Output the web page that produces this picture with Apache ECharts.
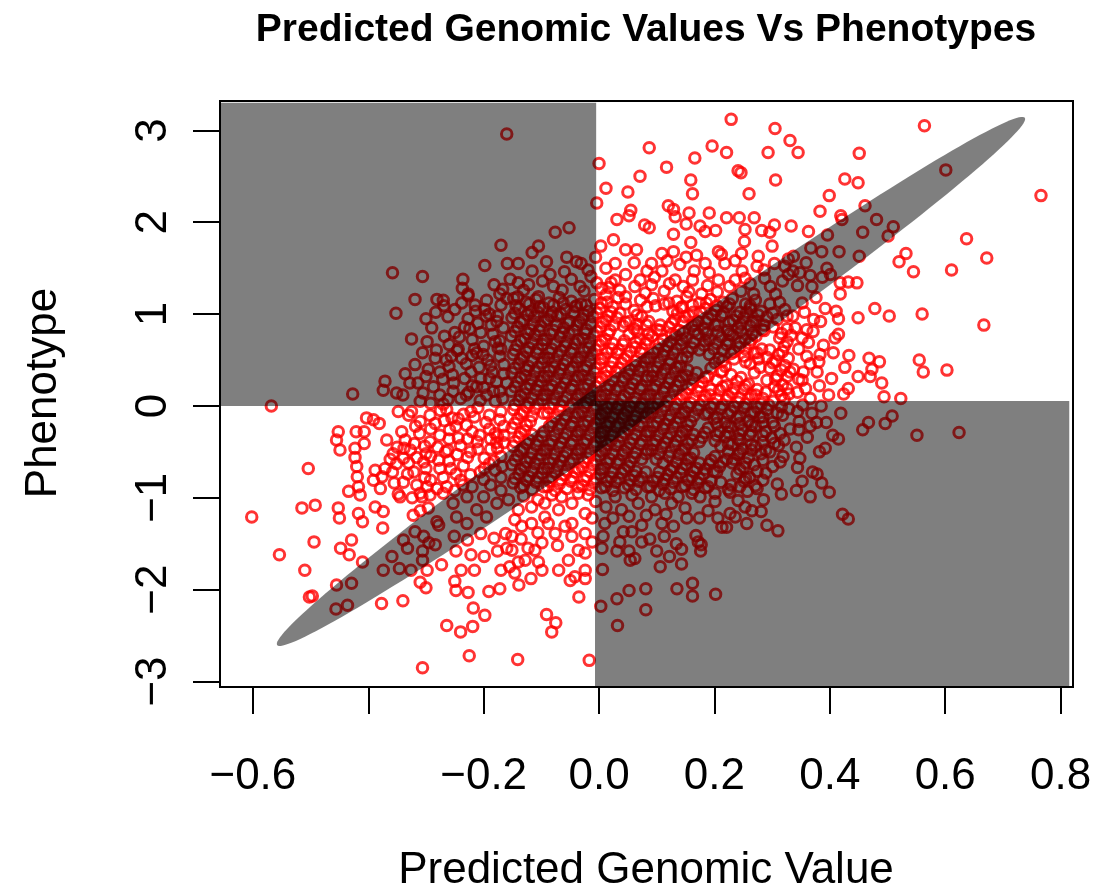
<!DOCTYPE html>
<html>
<head>
<meta charset="utf-8">
<script src="https://cdn.jsdelivr.net/npm/echarts@6/dist/echarts.min.js"></script>
<style>
  html, body { margin: 0; padding: 0; background: #ffffff; }
  #chart { width: 1117px; height: 893px; }
</style>
</head>
<body>
<div id="chart"></div>
<script>
// Axis ticks and the labelled subset (-0.4 carries a tick but no label)
const xTicks = [-0.6, -0.4, -0.2, 0, 0.2, 0.4, 0.6, 0.8];
const xTickLabels = [-0.6, -0.2, 0, 0.2, 0.4, 0.6, 0.8];
const yTicks = [-3, -2, -1, 0, 1, 2, 3];

// [predicted genomic value, phenotype] — outer part of the cloud
const outerPoints = [
  [-0.160,2.96],[-0.170,1.75],[-0.198,1.53],[-0.159,1.55],[-0.358,1.45],[-0.306,1.41],[-0.236,1.38],[-0.237,1.28],[-0.227,1.22],[-0.182,1.32],[-0.167,1.27],[-0.319,1.16],[-0.281,1.16],[-0.270,1.15],
  [0.229,3.12],[0.305,3.02],[0.331,2.89],[0.087,2.81],[0.196,2.83],[0.221,2.76],[0.293,2.76],[0.000,2.64],[0.166,2.70],[0.117,2.60],[0.071,2.50],[0.241,2.56],[0.246,2.54],[0.159,2.46],[0.306,2.46],[0.012,2.37],[0.050,2.33],[0.162,2.31],[0.260,2.31],[-0.004,2.21],[0.120,2.18],[0.129,2.14],[0.055,2.13],[0.052,2.07],[0.132,2.06],[0.156,2.10],[0.191,2.10],[0.221,2.05],[0.243,2.05],[0.269,2.05],[0.031,2.03],[0.079,1.97],[0.087,1.94],[0.151,1.98],[0.175,1.96],[0.184,1.90],[0.202,1.91],[0.129,1.87],[0.253,1.92],[0.282,1.91],[0.304,1.97],[0.333,1.96],[0.296,1.89],[-0.076,1.89],[-0.052,1.94],[0.025,1.81],[0.003,1.74],[0.159,1.78],[0.252,1.79],[0.300,1.74],[-0.105,1.74],[-0.116,1.67],[-0.091,1.57],[-0.140,1.55],[-0.039,1.57],[-0.031,1.55],[-0.085,1.43],[-0.060,1.46],[-0.019,1.48],[-0.014,1.41],[-0.154,1.38],[-0.140,1.34],[-0.131,1.26],[-0.105,1.19],[-0.079,1.30],[-0.064,1.26],[-0.033,1.30],[-0.004,1.34],[0.021,1.34],[0.046,1.70],[0.028,1.55],[0.065,1.70],[0.109,1.66],[0.129,1.68],[0.091,1.55],[0.140,1.54],[0.169,1.64],[0.207,1.68],[0.212,1.65],[0.184,1.55],[0.218,1.55],[0.247,1.66],[0.248,1.47],[0.276,1.63],[0.274,1.52],[0.304,1.55],[0.322,1.52],[0.083,1.47],[0.109,1.47],[0.165,1.47],[0.191,1.45],[0.046,1.43],[0.071,1.37],[0.028,1.37],[0.091,1.32],[0.132,1.37],[0.162,1.37],[0.207,1.37],[0.236,1.37],[0.253,1.39],[0.287,1.39],[0.328,1.43],[0.080,1.23],[0.113,1.25],[0.156,1.24],[0.178,1.22],[0.205,1.24],[0.246,1.25],[0.268,1.22],[0.297,1.30],[0.046,1.19],[0.012,1.21],[0.017,1.29],[0.328,1.60],[0.336,1.47],
  [0.564,3.05],[0.345,2.76],[0.451,2.75],[0.601,2.57],[0.766,2.29],[0.426,2.47],[0.449,2.43],[0.399,2.29],[0.383,2.12],[0.461,2.18],[0.419,2.07],[0.421,2.03],[0.481,2.03],[0.510,1.95],[0.501,1.85],[0.363,1.90],[0.396,1.86],[0.457,1.89],[0.637,1.82],[0.672,1.61],[0.416,1.68],[0.451,1.63],[0.532,1.66],[0.520,1.57],[0.545,1.46],[0.611,1.48],[0.367,1.72],[0.386,1.68],[0.337,1.63],[0.359,1.56],[0.395,1.50],[0.348,1.45],[0.366,1.42],[0.387,1.40],[0.401,1.43],[0.369,1.30],[0.418,1.34],[0.432,1.35],[0.447,1.34],[0.418,1.22],[0.344,1.31],
  [0.392,1.06],[0.411,1.03],[0.415,0.95],[0.384,0.92],[0.449,0.96],[0.478,1.06],[0.503,0.98],[0.560,1.00],[0.667,0.88],[0.336,0.98],[0.340,0.85],[0.360,0.83],[0.371,0.81],[0.415,0.78],[0.409,0.74],[0.363,0.69],[0.383,0.56],[0.360,0.54],[0.381,0.48],[0.378,0.37],[0.354,0.37],[0.337,0.40],[0.403,0.30],[0.468,0.52],[0.486,0.48],[0.473,0.40],[0.470,0.32],[0.449,0.32],[0.490,0.25],[0.555,0.50],[0.562,0.37],[0.603,0.39],[0.432,0.19],[0.424,0.13],[0.494,0.10],[0.523,0.08],[0.346,0.29],[0.358,0.19],[0.344,0.15],[0.353,0.01],[0.385,0.00],[0.344,-0.06],[0.369,-0.08],[0.419,-0.08],[0.377,-0.18],[0.394,-0.18],[0.347,-0.17],[0.508,-0.11],[0.496,-0.19],[0.467,-0.18],[0.457,-0.26],[0.551,-0.32],[0.624,-0.29],[0.361,-0.34],[0.405,-0.32],[0.415,-0.36],[0.392,-0.46],[0.342,-0.45],[0.348,-0.57],[0.344,-0.67],[0.370,-0.72],[0.378,-0.74],[0.399,-0.94],[0.366,-0.99],[0.422,-1.18],[0.432,-1.23],
  [-0.269,1.09],[-0.227,1.20],[-0.352,1.01],[-0.198,1.05],[-0.196,0.98],[-0.227,0.95],[-0.224,0.84],[-0.242,0.75],[-0.325,0.73],[-0.177,0.92],[-0.166,0.85],[-0.160,1.17],[-0.184,0.78],[-0.282,0.61],[-0.284,0.52],[-0.265,0.50],[-0.238,0.52],[-0.212,0.58],[-0.201,0.56],[-0.193,0.50],[-0.172,0.54],[-0.319,0.45],[-0.276,0.37],[-0.254,0.34],[-0.233,0.30],[-0.208,0.42],[-0.185,0.37],[-0.165,0.45],[-0.371,0.27],[-0.374,0.17],[-0.328,0.25],[-0.314,0.25],[-0.351,0.14],[-0.340,0.12],[-0.305,0.14],[-0.287,0.21],[-0.276,0.12],[-0.253,0.16],[-0.230,0.12],[-0.212,0.21],[-0.195,0.12],[-0.172,0.16],[-0.160,0.25],[-0.427,0.13],[-0.568,0.00],[-0.348,-0.06],[-0.325,-0.06],[-0.293,-0.10],[-0.264,-0.04],[-0.244,-0.14],[-0.222,-0.06],[-0.403,-0.13],[-0.391,-0.15],[-0.381,-0.19],[-0.452,-0.28],[-0.455,-0.37],[-0.449,-0.48],[-0.421,-0.28],[-0.407,-0.28],[-0.407,-0.41],[-0.423,-0.46],[-0.368,-0.37],[-0.342,-0.28],[-0.336,-0.37],[-0.311,-0.30],[-0.293,-0.39],[-0.284,-0.19],[-0.259,-0.26],[-0.244,-0.35],[-0.230,-0.21],[-0.207,-0.32],[-0.504,-0.68],[-0.423,-0.56],[-0.420,-0.66],[-0.419,-0.77],[-0.417,-0.88],[-0.434,-0.93],[-0.388,-0.70],[-0.391,-0.81],[-0.379,-0.90],[-0.371,-0.68],[-0.376,-0.77],[-0.357,-0.52],[-0.351,-0.63],[-0.339,-0.57],[-0.327,-0.48],[-0.321,-0.72],[-0.304,-0.61],[-0.292,-0.55],[-0.266,-0.50],[-0.339,-0.83],[-0.316,-0.86],[-0.292,-0.81],[-0.281,-0.90],[-0.257,-0.68],[-0.240,-0.81],[-0.223,-0.75],[-0.348,-0.96],[-0.310,-0.95],[-0.246,-0.53],[-0.223,-0.50],[-0.199,-0.57],[-0.176,-0.46],[-0.211,-0.39],[-0.188,-0.36],[-0.165,-0.32],[-0.182,-0.60],[-0.199,-0.68],
  [-0.170,-0.06],[-0.190,-0.10],[-0.210,-0.02],[-0.235,-0.09],[-0.255,-0.13],[-0.275,-0.05],[-0.310,-0.17],[-0.330,-0.10],[-0.165,-0.22],[-0.190,-0.25],[-0.220,-0.28],[-0.260,-0.36],[-0.320,-0.41],[-0.350,-0.45],[-0.170,-0.55],[-0.180,-0.70],[-0.200,-0.80],[-0.220,-0.88],[-0.170,-0.92],[-0.250,-0.92],[-0.270,-0.78],[-0.300,-0.68],[-0.330,-0.62],[-0.355,-0.84],[-0.260,-0.60],[-0.235,-0.65],[-0.210,-0.47],[-0.240,-0.43],[-0.280,-0.45],[-0.300,-0.52],[-0.170,-0.78],[-0.190,-0.63],[-0.165,-0.40],[-0.180,-0.30],
  [-0.170,1.10],[-0.190,1.00],[-0.210,0.90],[-0.180,0.70],[-0.200,0.65],[-0.220,0.72],[-0.250,0.80],[-0.260,0.67],[-0.170,0.62],[-0.190,0.30],[-0.220,0.22],[-0.240,0.08],[-0.180,0.05],[-0.200,0.20],[-0.165,0.35],[-0.230,0.46],[-0.260,0.43],[-0.300,0.32],[-0.310,0.05],[-0.270,0.02],[-0.215,1.10],[-0.250,1.05],[-0.300,0.95],[-0.290,0.85],
  [-0.602,-1.21],[-0.515,-1.11],[-0.492,-1.08],[-0.452,-1.11],[-0.450,-1.22],[-0.494,-1.48],[-0.554,-1.62],[-0.510,-1.79],[-0.502,-2.08],[-0.497,-2.07],[-0.455,-1.95],[-0.429,-1.93],[-0.456,-2.21],[-0.436,-2.17],[-0.448,-1.55],[-0.429,-1.46],[-0.433,-1.62],[-0.410,-1.70],[-0.417,-1.17],[-0.410,-1.26],[-0.388,-1.10],[-0.374,-1.15],[-0.375,-1.33],[-0.414,-0.97],[-0.345,-0.99],[-0.324,-1.00],[-0.307,-0.99],[-0.293,-0.97],[-0.270,-0.95],[-0.322,-1.19],[-0.310,-1.14],[-0.296,-1.11],[-0.281,-1.26],[-0.278,-1.30],[-0.319,-1.37],[-0.339,-1.46],[-0.332,-1.55],[-0.304,-1.42],[-0.295,-1.49],[-0.284,-1.51],[-0.306,-1.58],[-0.359,-1.64],[-0.374,-1.79],[-0.346,-1.77],[-0.326,-1.79],[-0.306,-1.68],[-0.298,-1.79],[-0.273,-1.73],[-0.310,-1.92],[-0.300,-1.98],[-0.377,-2.15],[-0.340,-2.12],[-0.264,-2.39],[-0.240,-2.46],[-0.219,-2.40],[-0.225,-2.72],[-0.306,-2.85],[-0.250,-1.91],[-0.248,-2.01],[-0.227,-2.03],[-0.218,-2.20],[-0.198,-2.28],[-0.191,-2.02],[-0.172,-1.99],[-0.239,-1.79],[-0.216,-1.79],[-0.170,-1.79],[-0.248,-1.58],[-0.222,-1.62],[-0.199,-1.64],[-0.176,-1.58],[-0.160,-1.55],[-0.251,-1.42],[-0.228,-1.46],[-0.205,-1.39],[-0.182,-1.44],[-0.162,-1.39],[-0.247,-1.21],[-0.229,-1.28],[-0.212,-1.13],[-0.195,-1.21],[-0.177,-1.06],[-0.253,-1.06],[-0.229,-0.99],[-0.200,-0.99],
  [-0.141,-2.76],[-0.017,-2.77],[-0.091,-2.27],[-0.075,-2.36],[-0.082,-2.46],[-0.035,-2.08],[-0.139,-1.95],[-0.118,-1.88],[-0.050,-1.90],[-0.042,-1.86],[-0.024,-1.88],[0.003,-2.18],[0.031,-2.10],[0.052,-2.01],[0.081,-1.99],[0.081,-2.22],[0.032,-2.39],[0.135,-1.99],[0.162,-1.93],[0.162,-2.07],[0.202,-2.05],[0.006,-1.78],[0.031,-1.58],[0.054,-1.68],[0.062,-1.66],[0.106,-1.75],[0.143,-1.72],[0.100,-1.58],[0.074,-1.48],[0.088,-1.45],[0.143,-1.56],[0.134,-1.50],[0.113,-1.42],[0.168,-1.41],[0.172,-1.48],[0.177,-1.51],[0.176,-1.58],[0.213,-1.32],[0.221,-1.32],[0.227,-1.17],[0.236,-1.21],[0.253,-1.10],[0.265,-1.14],[0.281,-1.15],[0.256,-1.28],[0.291,-1.30],[0.310,-1.36],[0.189,-1.14],[0.201,-1.04],[0.175,-0.99],[0.201,-0.95],[0.227,-0.94],[0.257,-0.93],[0.152,-1.22],[0.129,-1.31],[0.109,-1.28],[0.074,-1.30],[0.057,-1.37],[0.042,-1.37],[0.010,-1.28],[0.007,-1.42],[0.005,-1.55],[0.039,-1.13],[0.068,-1.06],[0.097,-1.13],[0.126,-1.06],[0.149,-1.11],[0.028,-0.99],[0.057,-0.97],[0.091,-0.99],[0.114,-0.95],[0.137,-0.99],[0.161,-0.95],[-0.134,-1.31],[-0.117,-1.28],[-0.151,-1.42],[-0.123,-1.55],[-0.111,-1.57],[-0.151,-1.57],[-0.140,-1.70],[-0.105,-1.70],[-0.099,-1.79],[-0.024,-1.79],[-0.053,-1.68],[-0.036,-1.57],[-0.024,-1.60],[-0.047,-1.42],[-0.024,-1.39],[-0.059,-1.31],[-0.088,-1.28],[-0.076,-1.39],[-0.099,-1.49],[-0.070,-1.79],[-0.128,-1.68],[-0.146,-1.82],[-0.155,-1.75],[-0.157,-1.02],[-0.140,-1.13],[-0.117,-1.10],[-0.094,-1.06],[-0.070,-1.13],[-0.047,-1.06],[-0.024,-1.17],[-0.094,-1.21],[-0.047,-1.28],[-0.146,-1.24],[-0.065,-0.99],[-0.036,-0.95],[-0.019,-0.97]
];

// Ring of moderately dense points round the centre
const ringPoints = [
  [-0.172,1.22],[-0.195,1.15],[-0.214,1.03],[-0.238,1.12],[-0.262,0.97],[-0.283,1.02],[-0.176,0.98],[-0.205,0.80],[-0.233,0.86],[-0.268,0.76],[-0.298,0.70],[-0.187,0.88],[-0.172,0.71],[-0.216,0.62],[-0.246,0.60],[-0.306,0.58],[-0.188,0.44],[-0.222,0.37],[-0.252,0.25],[-0.271,0.29],[-0.296,0.40],[-0.336,0.35],[-0.205,0.30],[-0.178,0.26],[-0.167,0.08],[-0.206,0.06],[-0.226,0.15],[-0.262,0.07],[-0.292,0.03],[-0.183,0.16],[-0.244,0.62],[-0.256,0.54],[-0.175,0.63],[-0.220,0.55],
  [-0.172,-0.15],[-0.196,-0.18],[-0.216,-0.12],[-0.248,-0.22],[-0.268,-0.16],[-0.292,-0.25],[-0.318,-0.22],[-0.176,-0.33],[-0.228,-0.36],[-0.276,-0.32],[-0.302,-0.44],[-0.338,-0.46],[-0.188,-0.47],[-0.262,-0.48],[-0.228,-0.56],[-0.278,-0.59],[-0.316,-0.56],[-0.168,-0.66],[-0.206,-0.72],[-0.248,-0.74],[-0.276,-0.68],[-0.302,-0.78],[-0.332,-0.74],[-0.188,-0.86],[-0.236,-0.86],[-0.264,-0.88],[-0.298,-0.88],[-0.178,-0.40],[-0.362,-0.58],[-0.358,-0.72],
  [-0.122,1.32],[-0.098,1.36],[-0.048,1.38],[-0.026,1.25],[0.004,1.28],[0.036,1.26],[0.062,1.30],[0.096,1.40],[0.122,1.33],[0.146,1.30],[0.188,1.31],[0.226,1.30],[0.262,1.33],[0.306,1.22],[0.318,1.36],[0.061,1.56],[0.118,1.58],[0.151,1.62],[0.236,1.58],[0.286,1.48],[-0.056,1.62],[-0.006,1.62],[0.012,1.50],[-0.116,1.47],[-0.141,1.19],
  [-0.131,-0.98],[-0.106,-1.02],[-0.082,-0.97],[-0.006,-1.04],[0.012,-1.10],[-0.012,-1.22],[0.024,-1.22],[0.052,-1.20],[0.082,-1.19],[0.116,-1.18],[0.174,-1.22],[0.206,-1.22],[-0.106,-1.38],[-0.072,-1.52],[-0.012,-1.48],[0.036,-1.48],[0.052,-1.58],[0.122,-1.64],[-0.135,-1.45],[0.241,-1.03],[0.285,-1.02],[0.316,-0.96],
  [0.352,1.12],[0.376,1.18],[0.356,1.02],[0.372,0.94],[0.352,0.74],[0.389,0.66],[0.406,0.58],[0.346,0.62],[0.366,0.46],[0.352,0.28],[0.382,0.22],[0.398,0.12],[0.366,0.08],[0.346,-0.26],[0.366,-0.22],[0.382,-0.50],[0.352,-0.82],[0.386,-0.84],[0.342,-0.92],[0.433,0.55],[0.426,0.42]
];

// Dense centre of the cloud
const corePoints = [
  [-0.148,1.17],[-0.126,1.13],[-0.109,1.16],[-0.087,1.12],[-0.069,1.18],[-0.048,1.14],[-0.031,1.11],[-0.008,1.16],[0.014,1.13],[0.033,1.18],[0.072,1.15],[0.094,1.17],[0.113,1.11],[0.135,1.14],[0.152,1.19],[0.174,1.12],[0.193,1.16],[0.215,1.13],[0.231,1.17],[0.254,1.11],[0.271,1.15],[0.313,1.13],
  [-0.144,1.09],[-0.121,1.11],[-0.103,1.08],[-0.079,1.10],[-0.062,1.12],[-0.039,1.09],[-0.022,1.10],[0.004,1.12],[0.024,1.08],[0.046,1.11],[0.098,1.09],[0.121,1.12],[0.144,1.08],[0.162,1.10],[0.186,1.12],[0.204,1.09],[0.226,1.11],[0.262,1.09],[0.296,1.11],
  [-0.139,1.06],[-0.118,1.03],[-0.097,1.07],[-0.081,1.02],[-0.058,1.05],[-0.041,1.08],[-0.019,1.03],[0.002,1.06],[0.021,1.02],[0.061,1.04],[0.083,1.08],[0.128,1.03],[0.142,1.07],[0.163,1.02],[0.184,1.06],[0.203,1.04],[0.222,1.08],[0.244,1.02],[0.262,1.06],[0.281,1.03],[0.322,1.05],
  [-0.146,1.01],[-0.124,0.99],[-0.106,1.02],[-0.084,0.98],[-0.066,1.00],[-0.044,1.02],[-0.026,0.99],[-0.004,1.01],[0.016,0.98],[0.036,1.01],[0.066,0.99],[0.136,1.01],[0.156,0.98],[0.176,1.02],[0.196,0.99],[0.216,1.01],[0.238,0.98],[0.256,1.02],[0.276,0.99],[0.301,1.01],[0.326,0.98],
  [-0.151,0.96],[-0.131,0.93],[-0.112,0.97],[-0.089,0.94],[-0.072,0.98],[-0.051,0.92],[-0.029,0.95],[-0.011,0.97],[0.012,0.93],[0.031,0.96],[0.053,0.92],[0.074,0.97],[0.131,0.94],[0.149,0.97],[0.171,0.92],[0.189,0.95],[0.212,0.98],[0.233,0.93],[0.251,0.96],[0.272,0.92],[0.291,0.97],[0.309,0.94],
  [-0.136,0.91],[-0.114,0.89],[-0.094,0.92],[-0.074,0.88],[-0.054,0.90],[-0.034,0.92],[-0.014,0.89],[0.006,0.91],[0.026,0.88],[0.046,0.91],[0.066,0.89],[0.086,0.92],[0.106,0.88],[0.126,0.90],[0.146,0.92],[0.166,0.89],[0.186,0.91],[0.206,0.88],[0.226,0.91],[0.246,0.89],[0.266,0.92],[0.286,0.88],
  [-0.141,0.86],[-0.119,0.83],[-0.101,0.87],[-0.079,0.82],[-0.061,0.85],[-0.038,0.88],[-0.022,0.83],[0.003,0.86],[0.019,0.82],[0.042,0.87],[0.061,0.84],[0.082,0.88],[0.101,0.83],[0.121,0.86],[0.139,0.82],[0.162,0.87],[0.181,0.84],[0.201,0.88],[0.223,0.82],[0.241,0.85],[0.262,0.87],[0.283,0.83],[0.302,0.86],[0.326,0.84],
  [-0.146,0.81],[-0.124,0.79],[-0.104,0.82],[-0.084,0.78],[-0.064,0.80],[-0.044,0.82],[-0.024,0.79],[-0.004,0.81],[0.016,0.78],[0.066,0.81],[0.086,0.79],[0.106,0.82],[0.126,0.78],[0.146,0.80],[0.166,0.82],[0.186,0.79],[0.206,0.81],[0.226,0.78],[0.246,0.81],[0.266,0.79],[0.286,0.82],[0.316,0.79],
  [-0.152,0.76],[-0.129,0.73],[-0.111,0.77],[-0.091,0.72],[-0.068,0.75],[-0.052,0.78],[-0.028,0.73],[-0.009,0.76],[0.011,0.72],[0.052,0.78],[0.071,0.73],[0.092,0.76],[0.111,0.72],[0.133,0.77],[0.151,0.74],[0.172,0.78],[0.191,0.72],[0.212,0.75],[0.232,0.77],[0.253,0.73],[0.272,0.76],[0.313,0.74],[0.333,0.77],
  [-0.136,0.71],[-0.116,0.69],[-0.096,0.72],[-0.076,0.68],[-0.056,0.70],[-0.036,0.72],[-0.016,0.69],[0.004,0.71],[0.024,0.68],[0.044,0.71],[0.064,0.69],[0.084,0.72],[0.104,0.68],[0.124,0.70],[0.144,0.72],[0.164,0.69],[0.184,0.71],[0.204,0.68],[0.224,0.71],[0.244,0.69],[0.264,0.72],[0.326,0.70],
  [-0.142,0.66],[-0.121,0.63],[-0.098,0.67],[-0.082,0.62],[-0.059,0.65],[-0.041,0.68],[-0.018,0.63],[0.001,0.66],[0.022,0.62],[0.041,0.67],[0.063,0.64],[0.081,0.68],[0.102,0.62],[0.119,0.65],[0.142,0.67],[0.161,0.63],[0.182,0.66],[0.199,0.62],[0.221,0.67],[0.243,0.64],[0.261,0.68],[0.282,0.62],[0.321,0.65],
  [-0.146,0.61],[-0.126,0.59],[-0.106,0.62],[-0.086,0.58],[-0.066,0.60],[-0.046,0.62],[-0.026,0.59],[-0.006,0.61],[0.014,0.58],[0.034,0.61],[0.054,0.59],[0.074,0.62],[0.094,0.58],[0.114,0.60],[0.134,0.62],[0.154,0.59],[0.174,0.61],[0.214,0.61],[0.234,0.59],[0.254,0.62],[0.274,0.58],[0.296,0.61],[0.318,0.59],
  [-0.149,0.56],[-0.131,0.53],[-0.108,0.57],[-0.088,0.52],[-0.071,0.55],[-0.049,0.58],[-0.031,0.53],[-0.012,0.56],[0.009,0.52],[0.031,0.57],[0.049,0.54],[0.072,0.58],[0.089,0.52],[0.111,0.55],[0.129,0.57],[0.152,0.53],[0.191,0.56],[0.208,0.52],[0.229,0.57],[0.252,0.54],[0.269,0.58],[0.291,0.53],[0.311,0.56],
  [-0.136,0.51],[-0.116,0.49],[-0.096,0.52],[-0.076,0.48],[-0.056,0.50],[-0.036,0.52],[-0.016,0.49],[0.004,0.51],[0.024,0.48],[0.044,0.51],[0.064,0.49],[0.084,0.52],[0.104,0.48],[0.124,0.50],[0.144,0.52],[0.214,0.49],[0.234,0.51],[0.254,0.48],[0.276,0.51],[0.306,0.49],[0.328,0.52],
  [-0.139,0.46],[-0.122,0.43],[-0.099,0.47],[-0.078,0.42],[-0.061,0.45],[-0.039,0.48],[-0.021,0.43],[0.002,0.46],[0.021,0.42],[0.039,0.47],[0.062,0.44],[0.079,0.48],[0.101,0.42],[0.122,0.46],[0.141,0.43],[0.201,0.47],[0.219,0.43],[0.262,0.46],[0.279,0.42],[0.301,0.47],[0.322,0.44],
  [-0.146,0.41],[-0.126,0.39],[-0.106,0.42],[-0.086,0.38],[-0.066,0.40],[-0.046,0.42],[-0.026,0.39],[-0.006,0.41],[0.014,0.38],[0.034,0.41],[0.054,0.39],[0.074,0.42],[0.094,0.38],[0.114,0.40],[0.134,0.42],[0.154,0.39],[0.194,0.41],[0.214,0.38],[0.296,0.41],[0.316,0.39],
  [-0.151,0.36],[-0.128,0.33],[-0.111,0.37],[-0.089,0.32],[-0.069,0.35],[-0.051,0.38],[-0.029,0.33],[-0.008,0.36],[0.012,0.32],[0.029,0.37],[0.051,0.34],[0.069,0.38],[0.092,0.32],[0.109,0.35],[0.131,0.37],[0.151,0.33],[0.169,0.36],[0.189,0.32],[0.211,0.37],[0.229,0.34],[0.269,0.36],[0.309,0.33],[0.331,0.37],
  [-0.136,0.31],[-0.116,0.29],[-0.096,0.32],[-0.076,0.28],[-0.056,0.30],[-0.036,0.32],[-0.016,0.29],[0.004,0.31],[0.024,0.28],[0.044,0.31],[0.064,0.29],[0.084,0.32],[0.104,0.28],[0.124,0.30],[0.144,0.32],[0.164,0.29],[0.184,0.31],[0.204,0.28],[0.246,0.31],[0.306,0.29],[0.326,0.32],
  [-0.141,0.26],[-0.119,0.23],[-0.101,0.27],[-0.081,0.22],[-0.059,0.25],[-0.041,0.28],[-0.019,0.23],[0.001,0.26],[0.019,0.22],[0.041,0.27],[0.059,0.24],[0.082,0.28],[0.099,0.22],[0.121,0.25],[0.139,0.27],[0.161,0.23],[0.179,0.26],[0.221,0.22],[0.239,0.27],[0.259,0.24],[0.291,0.28],[0.318,0.23],
  [-0.146,0.21],[-0.126,0.19],[-0.106,0.22],[-0.086,0.18],[-0.066,0.20],[-0.046,0.22],[-0.026,0.19],[-0.006,0.21],[0.014,0.18],[0.034,0.21],[0.054,0.19],[0.074,0.22],[0.094,0.18],[0.114,0.20],[0.134,0.22],[0.154,0.19],[0.174,0.21],[0.194,0.18],[0.214,0.21],[0.234,0.19],[0.254,0.22],[0.274,0.18],[0.304,0.21],[0.326,0.19],
  [-0.152,0.16],[-0.129,0.13],[-0.109,0.17],[-0.091,0.12],[-0.071,0.15],[-0.049,0.18],[-0.031,0.13],[-0.011,0.16],[0.011,0.12],[0.029,0.17],[0.052,0.14],[0.071,0.18],[0.089,0.12],[0.112,0.15],[0.129,0.17],[0.151,0.13],[0.171,0.16],[0.192,0.12],[0.209,0.17],[0.231,0.14],[0.251,0.18],[0.271,0.12],[0.289,0.15],[0.311,0.17],[0.329,0.13],
  [-0.136,0.11],[-0.116,0.09],[-0.096,0.12],[-0.076,0.08],[-0.056,0.10],[-0.036,0.12],[-0.016,0.09],[0.004,0.11],[0.024,0.08],[0.044,0.11],[0.064,0.09],[0.084,0.12],[0.104,0.08],[0.124,0.10],[0.144,0.12],[0.164,0.09],[0.184,0.11],[0.204,0.08],[0.224,0.11],[0.244,0.09],[0.264,0.12],[0.284,0.08],[0.316,0.11],
  [-0.139,0.06],[-0.121,0.03],[-0.098,0.07],[-0.079,0.02],[-0.062,0.05],[-0.039,0.08],[-0.021,0.03],[0.003,0.06],[0.022,0.02],[0.039,0.07],[0.061,0.04],[0.079,0.08],[0.102,0.02],[0.119,0.05],[0.141,0.07],[0.159,0.03],[0.181,0.06],[0.199,0.02],[0.221,0.07],[0.241,0.04],[0.259,0.08],[0.281,0.02],[0.302,0.05],[0.321,0.07],
  [-0.146,0.01],[-0.126,-0.01],[-0.106,0.02],[-0.086,-0.02],[-0.066,0.00],[-0.046,0.02],[-0.026,-0.01],[-0.006,0.01],[0.014,-0.02],[0.034,0.01],[0.054,-0.01],[0.074,0.02],[0.094,-0.02],[0.114,0.00],[0.134,0.02],[0.154,-0.01],[0.174,0.01],[0.194,-0.02],[0.214,0.01],[0.234,-0.01],[0.254,0.02],[0.274,-0.02],[0.294,0.01],[0.316,-0.01],
  [-0.148,-0.04],[-0.131,-0.07],[-0.111,-0.03],[-0.089,-0.08],[-0.069,-0.05],[-0.051,-0.02],[-0.029,-0.07],[-0.009,-0.04],[0.011,-0.08],[0.031,-0.03],[0.049,-0.06],[0.071,-0.02],[0.091,-0.08],[0.109,-0.05],[0.131,-0.03],[0.149,-0.07],[0.171,-0.04],[0.189,-0.08],[0.211,-0.03],[0.229,-0.06],[0.251,-0.02],[0.269,-0.07],[0.291,-0.04],[0.309,-0.08],[0.329,-0.03],
  [-0.136,-0.09],[-0.116,-0.11],[-0.096,-0.08],[-0.076,-0.12],[-0.056,-0.10],[-0.036,-0.08],[-0.016,-0.11],[0.004,-0.09],[0.024,-0.12],[0.044,-0.09],[0.064,-0.11],[0.084,-0.08],[0.104,-0.12],[0.124,-0.10],[0.144,-0.08],[0.164,-0.11],[0.184,-0.09],[0.204,-0.12],[0.224,-0.09],[0.244,-0.11],[0.264,-0.08],[0.284,-0.12],[0.318,-0.10],
  [-0.141,-0.14],[-0.119,-0.17],[-0.081,-0.18],[-0.059,-0.15],[-0.041,-0.12],[-0.019,-0.17],[0.001,-0.14],[0.019,-0.18],[0.041,-0.13],[0.061,-0.16],[0.079,-0.12],[0.101,-0.18],[0.121,-0.15],[0.139,-0.13],[0.159,-0.17],[0.199,-0.14],[0.219,-0.18],[0.239,-0.13],[0.259,-0.16],[0.279,-0.12],[0.301,-0.18],
  [-0.146,-0.19],[-0.126,-0.21],[-0.086,-0.22],[-0.066,-0.20],[-0.046,-0.18],[-0.026,-0.21],[-0.006,-0.19],[0.014,-0.22],[0.034,-0.19],[0.054,-0.21],[0.074,-0.18],[0.094,-0.22],[0.114,-0.20],[0.134,-0.18],[0.154,-0.21],[0.204,-0.19],[0.224,-0.22],[0.244,-0.19],[0.264,-0.21],[0.284,-0.18],[0.304,-0.22],
  [-0.151,-0.24],[-0.129,-0.27],[-0.071,-0.25],[-0.049,-0.22],[-0.031,-0.27],[-0.011,-0.24],[0.009,-0.28],[0.029,-0.23],[0.051,-0.26],[0.069,-0.22],[0.089,-0.28],[0.111,-0.25],[0.129,-0.23],[0.151,-0.27],[0.189,-0.24],[0.209,-0.28],[0.229,-0.23],[0.249,-0.26],[0.271,-0.22],[0.289,-0.28],[0.331,-0.25],
  [-0.136,-0.29],[-0.116,-0.31],[-0.096,-0.28],[-0.076,-0.32],[-0.056,-0.30],[-0.036,-0.28],[-0.016,-0.31],[0.004,-0.29],[0.024,-0.32],[0.044,-0.29],[0.064,-0.31],[0.084,-0.28],[0.104,-0.32],[0.124,-0.30],[0.144,-0.28],[0.164,-0.31],[0.184,-0.29],[0.204,-0.32],[0.224,-0.29],[0.244,-0.31],[0.264,-0.28],[0.284,-0.32],[0.314,-0.30],
  [-0.139,-0.34],[-0.121,-0.37],[-0.099,-0.33],[-0.081,-0.38],[-0.061,-0.35],[-0.039,-0.32],[-0.021,-0.37],[0.002,-0.34],[0.021,-0.38],[0.039,-0.33],[0.059,-0.36],[0.081,-0.32],[0.099,-0.38],[0.119,-0.35],[0.141,-0.33],[0.161,-0.37],[0.179,-0.34],[0.201,-0.38],[0.219,-0.33],[0.241,-0.36],[0.261,-0.32],[0.299,-0.35],[0.321,-0.37],
  [-0.146,-0.39],[-0.126,-0.41],[-0.106,-0.38],[-0.086,-0.42],[-0.066,-0.40],[-0.046,-0.38],[-0.026,-0.41],[-0.006,-0.39],[0.014,-0.42],[0.034,-0.39],[0.054,-0.41],[0.074,-0.38],[0.094,-0.42],[0.114,-0.40],[0.134,-0.38],[0.154,-0.41],[0.174,-0.39],[0.224,-0.41],[0.244,-0.38],[0.264,-0.42],[0.284,-0.39],[0.304,-0.41],
  [-0.149,-0.44],[-0.131,-0.47],[-0.109,-0.43],[-0.091,-0.48],[-0.069,-0.45],[-0.049,-0.42],[-0.031,-0.47],[-0.009,-0.44],[0.011,-0.48],[0.029,-0.43],[0.049,-0.46],[0.071,-0.42],[0.091,-0.48],[0.109,-0.45],[0.131,-0.43],[0.149,-0.47],[0.211,-0.44],[0.231,-0.42],[0.249,-0.47],[0.271,-0.44],[0.289,-0.48],[0.311,-0.43],
  [-0.136,-0.49],[-0.116,-0.51],[-0.096,-0.48],[-0.076,-0.52],[-0.056,-0.50],[-0.036,-0.48],[-0.016,-0.51],[0.004,-0.49],[0.024,-0.52],[0.044,-0.49],[0.064,-0.51],[0.084,-0.48],[0.104,-0.52],[0.124,-0.50],[0.144,-0.48],[0.164,-0.51],[0.224,-0.49],[0.244,-0.51],[0.264,-0.48],[0.296,-0.50],
  [-0.141,-0.54],[-0.119,-0.57],[-0.101,-0.53],[-0.079,-0.58],[-0.061,-0.55],[-0.039,-0.52],[-0.019,-0.57],[0.001,-0.54],[0.019,-0.58],[0.041,-0.53],[0.061,-0.56],[0.081,-0.52],[0.099,-0.58],[0.121,-0.55],[0.139,-0.53],[0.159,-0.57],[0.201,-0.55],[0.221,-0.58],[0.241,-0.53],[0.259,-0.56],[0.281,-0.52],[0.319,-0.55],
  [-0.146,-0.59],[-0.126,-0.61],[-0.106,-0.58],[-0.086,-0.62],[-0.066,-0.60],[-0.046,-0.58],[-0.026,-0.61],[-0.006,-0.59],[0.014,-0.62],[0.034,-0.59],[0.054,-0.61],[0.074,-0.58],[0.134,-0.61],[0.154,-0.58],[0.174,-0.62],[0.194,-0.59],[0.214,-0.61],[0.234,-0.58],[0.254,-0.62],[0.284,-0.59],[0.314,-0.61],
  [-0.151,-0.64],[-0.129,-0.67],[-0.111,-0.63],[-0.089,-0.68],[-0.071,-0.65],[-0.051,-0.62],[-0.029,-0.67],[-0.011,-0.64],[0.009,-0.68],[0.031,-0.63],[0.051,-0.66],[0.111,-0.62],[0.129,-0.67],[0.151,-0.64],[0.169,-0.68],[0.191,-0.63],[0.209,-0.66],[0.231,-0.62],[0.251,-0.67],[0.269,-0.64],[0.301,-0.66],
  [-0.136,-0.69],[-0.116,-0.71],[-0.096,-0.68],[-0.076,-0.72],[-0.056,-0.70],[-0.036,-0.68],[-0.016,-0.71],[0.004,-0.69],[0.024,-0.72],[0.044,-0.69],[0.064,-0.71],[0.104,-0.72],[0.124,-0.70],[0.144,-0.68],[0.164,-0.71],[0.184,-0.69],[0.204,-0.72],[0.244,-0.69],[0.274,-0.71],
  [-0.139,-0.74],[-0.121,-0.77],[-0.099,-0.73],[-0.081,-0.78],[-0.059,-0.75],[-0.041,-0.72],[-0.021,-0.77],[0.002,-0.74],[0.021,-0.78],[0.039,-0.73],[0.061,-0.76],[0.081,-0.72],[0.101,-0.78],[0.119,-0.75],[0.141,-0.73],[0.161,-0.77],[0.181,-0.74],[0.199,-0.71],[0.239,-0.74],[0.261,-0.78],[0.289,-0.73],
  [-0.146,-0.79],[-0.126,-0.81],[-0.106,-0.78],[-0.086,-0.82],[-0.066,-0.80],[-0.046,-0.78],[-0.026,-0.81],[-0.006,-0.79],[0.014,-0.82],[0.034,-0.79],[0.054,-0.81],[0.074,-0.78],[0.094,-0.82],[0.114,-0.80],[0.134,-0.78],[0.154,-0.81],[0.174,-0.79],[0.194,-0.82],[0.254,-0.79],[0.284,-0.81],
  [-0.149,-0.84],[-0.131,-0.87],[-0.109,-0.83],[-0.089,-0.88],[-0.069,-0.85],[-0.049,-0.82],[-0.029,-0.87],[-0.009,-0.84],[0.011,-0.88],[0.029,-0.83],[0.051,-0.86],[0.069,-0.82],[0.089,-0.88],[0.111,-0.85],[0.129,-0.83],[0.149,-0.87],[0.171,-0.84],[0.189,-0.88],[0.211,-0.83],[0.229,-0.86],[0.251,-0.82],[0.271,-0.87],[0.309,-0.85],
  [-0.136,-0.89],[-0.116,-0.91],[-0.096,-0.88],[-0.076,-0.92],[-0.056,-0.90],[-0.036,-0.88],[-0.016,-0.91],[0.004,-0.89],[0.024,-0.92],[0.044,-0.89],[0.064,-0.91],[0.084,-0.88],[0.104,-0.92],[0.124,-0.90],[0.144,-0.88],[0.164,-0.91],[0.184,-0.89],[0.224,-0.91],[0.244,-0.88],[0.274,-0.90]
];

// Plot window
const X_MIN = -0.657, X_MAX = 0.8215;
const Y_MIN = -3.06, Y_MAX = 3.32;

// Shaded quadrants: [x0, y0, x1, y1]
const shadedQuadrants = [
  [X_MIN, 0, -0.005, 3.30],
  [-0.007, Y_MIN, 0.815, 0.054]
];

// Shaded ellipse: centre and half-axis vectors, in data units
const ellipseCentre = [0.090, 0.267];
const ellipseMajor = [0.648, 2.870];
const ellipseMinor = [0.027, -0.240];

const FONT = '"Liberation Sans", Arial, Helvetica, sans-serif';
const SHADE = 'rgba(0,0,0,0.5)';

function minusFmt(v, digits) {
  const s = digits ? Math.abs(v).toFixed(digits) : String(Math.abs(v));
  return (v < 0 ? '\u2212' : '') + s;
}

const chart = echarts.init(document.getElementById('chart'), null, { renderer: 'canvas' });

chart.setOption({
  animation: false,
  backgroundColor: '#ffffff',
  grid: {
    left: 220, top: 101, width: 853, height: 586,
    show: true, borderColor: '#000000', borderWidth: 2, backgroundColor: 'transparent'
  },
  xAxis: {
    type: 'value', min: X_MIN, max: X_MAX,
    axisLine: { show: false, onZero: false },
    splitLine: { show: false },
    axisTick: { show: true, customValues: xTicks, length: 27, lineStyle: { color: '#000', width: 2 } },
    axisLabel: {
      customValues: xTickLabels, margin: 68, color: '#000', fontSize: 44, fontFamily: FONT,
      formatter: v => minusFmt(v, 1)
    }
  },
  yAxis: {
    type: 'value', min: Y_MIN, max: Y_MAX,
    axisLine: { show: false, onZero: false },
    splitLine: { show: false },
    axisTick: { show: true, customValues: yTicks, length: 27, lineStyle: { color: '#000', width: 2 } },
    axisLabel: {
      customValues: yTicks, rotate: 90, margin: 44, color: '#000', fontSize: 44, fontFamily: FONT,
      formatter: v => minusFmt(v, 0)
    }
  },
  graphic: [
    {
      type: 'text', x: 646, y: 30,
      style: { text: 'Predicted Genomic Values Vs Phenotypes', fontFamily: FONT, fontWeight: 'bold', fontSize: 39,
               fill: '#000', align: 'center', verticalAlign: 'middle' }
    },
    {
      type: 'text', x: 646, y: 871,
      style: { text: 'Predicted Genomic Value', fontFamily: FONT, fontSize: 44, fill: '#000',
               align: 'center', verticalAlign: 'middle' }
    },
    {
      type: 'text', x: 44, y: 393, rotation: Math.PI / 2,
      style: { text: 'Phenotype', fontFamily: FONT, fontSize: 44, fill: '#000',
               align: 'center', verticalAlign: 'middle' }
    }
  ],
  series: [
    {
      type: 'scatter',
      data: outerPoints.concat(ringPoints, corePoints),
      symbol: 'circle', symbolSize: 10.5,
      itemStyle: { color: 'rgba(255,255,255,0)', borderColor: '#ff0000', borderWidth: 3 },
      silent: true, z: 2
    },
    {
      type: 'custom',
      data: shadedQuadrants,
      z: 3, silent: true, clip: true,
      renderItem: (params, api) => {
        const p0 = api.coord([api.value(0), api.value(3)]);
        const p1 = api.coord([api.value(2), api.value(1)]);
        return { type: 'rect', shape: { x: p0[0], y: p0[1], width: p1[0] - p0[0], height: p1[1] - p0[1] },
                 style: { fill: SHADE } };
      }
    },
    {
      type: 'custom',
      data: [ellipseCentre],
      z: 4, silent: true, clip: true,
      renderItem: (params, api) => {
        const pts = [];
        const n = 180;
        for (let k = 0; k < n; k++) {
          const t = 2 * Math.PI * k / n;
          pts.push(api.coord([
            api.value(0) + Math.cos(t) * ellipseMajor[0] + Math.sin(t) * ellipseMinor[0],
            api.value(1) + Math.cos(t) * ellipseMajor[1] + Math.sin(t) * ellipseMinor[1]
          ]));
        }
        return { type: 'polygon', shape: { points: pts }, style: { fill: SHADE } };
      }
    }
  ]
});
</script>
</body>
</html>
